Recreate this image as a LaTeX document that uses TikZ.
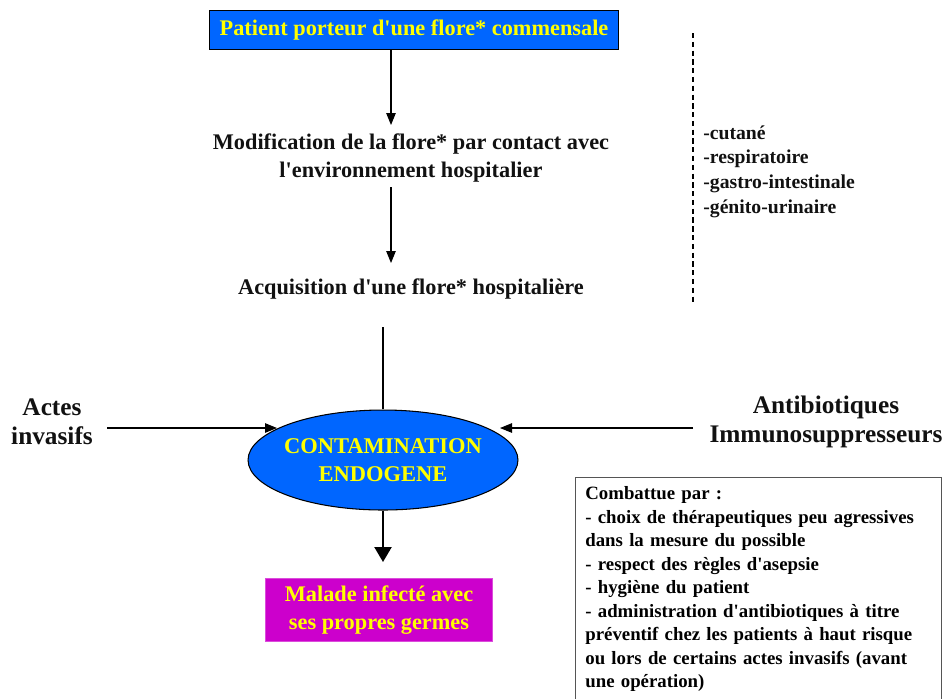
\documentclass[tikz,border=0pt]{standalone}
\usepackage{fontspec}
\setmainfont{Liberation Serif}
\usepackage{xcolor}
\definecolor{boxblue}{HTML}{0066FF}
\definecolor{txtyellow}{HTML}{FFFF00}
\definecolor{magbox}{HTML}{CC00CC}
\definecolor{ink}{HTML}{111111}
\definecolor{frame}{HTML}{555555}
\usetikzlibrary{positioning,arrows.meta,shapes.geometric}
\newcommand{\q}{\textquotesingle}
\tikzset{
  >={Triangle[length=2.4mm,width=1.9mm]},
  hdr/.style={draw=black,fill=boxblue,text=txtyellow,line width=0.6pt,
    font=\bfseries\fontsize{12.7}{14}\selectfont,minimum width=8.2cm,minimum height=0.78cm,inner sep=0pt},
  stage/.style={align=center,text=ink,font=\bfseries\fontsize{12.7}{15.5}\selectfont,inner sep=0pt},
  side/.style={align=center,text=ink,font=\bfseries\fontsize{14.4}{16.5}\selectfont,inner sep=0pt},
  core/.style={ellipse,draw=black,fill=boxblue,line width=0.6pt,
    minimum width=5.4cm,minimum height=2cm,inner sep=0pt},
  coretxt/.style={text=txtyellow,align=center,font=\bfseries\fontsize{12.8}{16}\selectfont,inner sep=0pt},
  result/.style={draw=magbox!70,fill=magbox,text=txtyellow,align=center,
    font=\bfseries\fontsize{12.7}{15.5}\selectfont,minimum width=4.54cm,minimum height=1.26cm,inner sep=0pt},
  note/.style={draw=frame,line width=0.8pt,align=left,anchor=north west,
    font=\bfseries\fontsize{10.7}{13.4}\selectfont,text width=7.32cm-11pt,minimum height=4.4cm,
    inner xsep=5.5pt,inner ysep=5pt},
  sites/.style={align=left,anchor=north west,text=ink,font=\bfseries\fontsize{11.2}{14.2}\selectfont,inner sep=0pt},
  flow/.style={->,draw=black,line width=0.6pt},
}
\begin{document}
\begin{tikzpicture}[x=0.02cm,y=-0.02cm]
  \useasboundingbox (0,0) rectangle (942,698);
  % main chain
  \node[hdr] (porteur) at (414,30) {Patient porteur d\q une flore* commensale};
  \node[stage] (modif) at (411,158) {Modification de la flore* par contact avec\\l\q environnement hospitalier};
  \node[stage] (acq) at (411,289) {Acquisition d\q une flore* hospitalière};
  \node[core] (endo) at (383,460) {};
  \node[coretxt] (endotxt) at (endo.center) {CONTAMINATION\\ENDOGENE};
  \node[result] (malade) at (379,610) {Malade infecté avec\\ses propres germes};
  \coordinate (a1) at (391,50);
  \coordinate (a2) at (391,125);
  \coordinate (b1) at (391,187);
  \coordinate (b2) at (391,263);
  \coordinate (c1) at (383,327);
  \coordinate (d2) at (383,562);
  \draw[flow] (a1) -- (a2);
  \draw[flow] (b1) -- (b2);
  \draw[line width=1pt] (c1) -- (endo.north);
  \draw[line width=1.3pt,-{Triangle[length=3mm,width=3.4mm]}] (endo.south) -- (d2);
  % side factors
  \node[side] (actes) at (52,422) {Actes\\invasifs};
  \node[side] (antib) at (826,422) {Antibiotiques\\Immunosuppresseurs};
  \coordinate (e1) at (107,428);
  \coordinate (e2) at (277,428);
  \coordinate (f1) at (693,428);
  \coordinate (f2) at (500,428);
  \draw[flow] (e1) -- (e2);
  \draw[flow] (f1) -- (f2);
  % sites of the flora
  \coordinate (g1) at (693,33);
  \coordinate (g2) at (693,303);
  \draw[line width=0.6pt,dash pattern=on 3pt off 2pt] (g1) -- (g2);
  \node[sites] (list) at (703,125) {-cutané\\-respiratoire\\-gastro-intestinale\\-génito-urinaire};
  % prevention
  \node[note] (combat) at (575,477) {Combattue par :\\
    - choix de thérapeutiques peu agressives\\
    dans la mesure du possible\\
    - respect des règles d\q asepsie\\
    - hygiène du patient\\
    - administration d\q antibiotiques à titre\\
    préventif chez les patients à haut risque\\
    ou lors de certains actes invasifs (avant\\
    une opération)};
\end{tikzpicture}
\end{document}
